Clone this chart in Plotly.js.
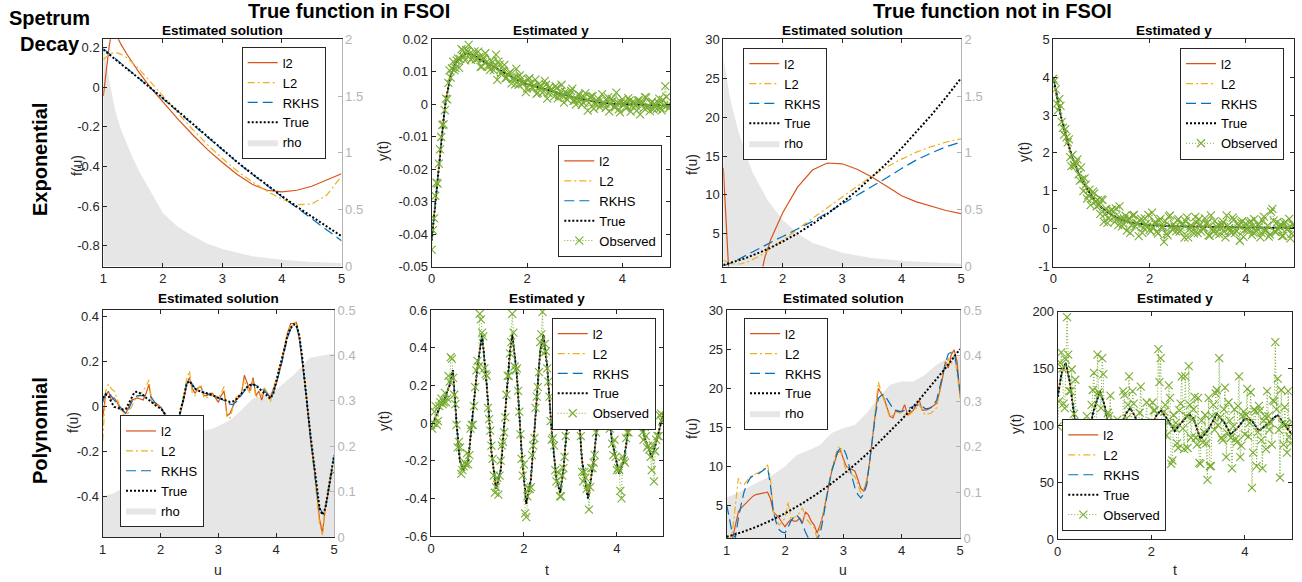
<!DOCTYPE html>
<html><head><meta charset="utf-8">
<script src="https://cdn.plot.ly/plotly-3.0.1.min.js"></script>
<style>html,body{margin:0;padding:0;background:#fff}#chart{width:1302px;height:582px}</style>
</head><body><div id="chart"></div>
<script>
// ---------------- DATA ----------------
// Panel 1: exponential decay, true function in FSOI, estimated solution
const u1 = [1,1.05,1.1,1.15,1.2,1.25,1.3,1.4,1.5,1.6,1.8,2,2.25,2.5,2.75,3,3.25,3.5,3.75,4,4.25,4.5,4.75,5];
const l2F1 = [-0.045,0.09,0.21,0.29,0.3,0.245,0.215,0.165,0.118,0.075,-0.005,-0.075,-0.16,-0.24,-0.315,-0.38,-0.44,-0.49,-0.52,-0.528,-0.52,-0.5,-0.47,-0.437];
const L2F1 = [0.14,0.155,0.166,0.172,0.174,0.172,0.166,0.148,0.122,0.092,0.025,-0.045,-0.13,-0.213,-0.29,-0.36,-0.423,-0.477,-0.525,-0.565,-0.593,-0.59,-0.545,-0.45];
const rkhsF1 = [0.195,0.182,0.17,0.157,0.145,0.132,0.12,0.095,0.07,0.045,-0.005,-0.056,-0.122,-0.188,-0.253,-0.317,-0.379,-0.439,-0.497,-0.553,-0.608,-0.663,-0.718,-0.775];
const trueF1 = [0.19,0.178,0.166,0.154,0.142,0.13,0.118,0.094,0.07,0.045,-0.005,-0.055,-0.12,-0.187,-0.252,-0.316,-0.378,-0.437,-0.494,-0.55,-0.603,-0.654,-0.703,-0.752];
const rhoU1 = [1,1.02,1.05,1.1,1.15,1.2,1.3,1.4,1.5,1.6,1.8,2,2.25,2.5,2.75,3,3.5,4,4.5,5];
const rho1 = [1.95,1.9,1.8,1.64,1.5,1.37,1.2,1.07,0.95,0.84,0.66,0.47,0.35,0.27,0.2,0.155,0.09,0.06,0.04,0.03];

// Observation times (two interleaved sampling grids)
const tObs = [0,0.05,0.1,0.15,0.2,0.25,0.3,0.35,0.4,0.45,0.5,0.55,0.6,0.65,0.7,0.75,0.8,0.85,0.9,0.95,1,1.05,1.1,1.15,1.2,1.25,1.3,1.35,1.4,1.45,1.5,1.55,1.6,1.65,1.7,1.75,1.8,1.85,1.9,1.95,2,2.05,2.1,2.15,2.2,2.25,2.3,2.35,2.4,2.45,2.5,2.55,2.6,2.65,2.7,2.75,2.8,2.85,2.9,2.95,3,3.05,3.1,3.15,3.2,3.25,3.3,3.35,3.4,3.45,3.5,3.55,3.6,3.65,3.7,3.75,3.8,3.85,3.9,3.95,4,4.05,4.1,4.15,4.2,4.25,4.3,4.35,4.4,4.45,4.5,4.55,4.6,4.65,4.7,4.75,4.8,4.85,4.9,4.95,5];
const tObsB = [0.025,0.075,0.125,0.175,0.225,0.275,0.325,0.375,0.425,0.475,0.525,0.575,0.625,0.675,0.725,0.775,0.825,0.875,0.925,0.975,
1.025,1.075,1.125,1.175,1.225,1.275,1.325,1.375,1.425,1.475,1.525,1.575,1.625,1.675,1.725,1.775,1.825,1.875,1.925,1.975,
2.025,2.075,2.125,2.175,2.225,2.275,2.325,2.375,2.425,2.475,2.525,2.575,2.625,2.675,2.725,2.775,2.825,2.875,2.925,2.975,
3.025,3.075,3.125,3.175,3.225,3.275,3.325,3.375,3.425,3.475,3.525,3.575,3.625,3.675,3.725,3.775,3.825,3.875,3.925,3.975,
4.025,4.075,4.125,4.175,4.225,4.275,4.325,4.375,4.425,4.475,4.525,4.575,4.625,4.675,4.725,4.775,4.825,4.875,4.925,4.975];

// Panel 2: exponential, FSOI, estimated y
const tLine2 = [0,0.05,0.1,0.15,0.2,0.25,0.3,0.35,0.4,0.5,0.6,0.7,0.8,0.9,1.0,1.2,1.4,1.6,1.8,2.0,2.25,2.5,2.75,3.0,3.25,3.5,3.75,4.0,4.5,5.0];
const yTrue2 = [-0.042,-0.034,-0.026,-0.018,-0.011,-0.0045,0.0015,0.0055,0.009,0.0125,0.0145,0.0155,0.0155,0.015,0.0138,0.0123,0.0107,0.0091,0.0075,0.0062,0.0052,0.0042,0.003,0.002,0.0013,0.0005,0.0002,0,-0.0002,-0.0005];
const obs2 = [-0.0448,-0.0352,-0.0242,-0.0183,-0.0101,-0.0062,0.0017,0.0066,0.0082,0.0131,
0.0111,0.0141,0.0139,0.0166,0.0135,0.0163,0.0156,0.0142,0.0163,0.0141,
0.0146,0.0116,0.0141,0.013,0.0116,0.0135,0.0104,0.0153,0.0131,0.0094,
0.0105,0.008,0.0091,0.0099,0.0078,0.0061,0.0084,0.0089,0.0065,0.0069,
0.0049,0.008,0.0052,0.0058,0.0032,0.0063,0.0055,0.004,0.006,0.0034,
0.0045,0.0039,0.0056,0.0019,0.0039,0.0026,0.0038,0.0014,0.003,0.0048,
0.0011,0.0015,0.0029,-0.0002,0.0021,0.0012,0.0004,0.0024,-0.0014,0.001,
0.0016,-0.0003,0.0006,-0.0011,0.0021,0,0.0011,-0.001,0.0006,-0.0025,
0.0016,0,-0.0008,0.0011,-0.0006,0.0006,-0.002,0.0012,0.0001,-0.0012,
0.002,-0.0007,0.0003,-0.0016,-0.0002,0.0006,-0.0011,0.0013,0.0056,-0.0003,
-0.0008];
const obs2b = [-0.0388,-0.0282,-0.0245,-0.0139,-0.0064,-0.0018,0.0015,0.0104,0.011,0.0105,
0.0135,0.0112,0.017,0.0146,0.0167,0.0183,0.0137,0.0152,0.0138,0.0162,
0.0115,0.0141,0.0157,0.0119,0.0106,0.013,0.0116,0.0075,0.0122,0.0097,
0.0121,0.0082,0.0096,0.0064,0.0081,0.0109,0.006,0.0078,0.0064,0.0037,
0.0076,0.0065,0.0049,0.0076,0.0035,0.0054,0.0036,0.0072,0.0017,0.0053,
0.0045,0.0024,0.005,0.0028,0.006,0.0005,0.0034,0.0024,0.0041,0.001,
-0.0001,0.003,0.0017,0.0006,0.0034,-0.002,0.0021,0.0025,0,0.0006,
-0.0009,0.0031,0,0.0011,-0.0022,0.0017,-0.0008,0.0036,-0.0016,0.0006,
0.0003,-0.0013,0.0019,-0.0023,0.0009,-0.0004,0.0012,-0.0031,0.0005,0.0022,
-0.0009,-0.0021,0.0008,0.0001,-0.0014,0.0017,-0.0019,-0.0004,0.0023,-0.0013];

// Panel 3: exponential, not in FSOI, estimated solution
const u3 = [1,1.05,1.1,1.2,1.3,1.4,1.5,1.6,1.7,1.8,1.9,2,2.25,2.5,2.75,3,3.25,3.5,3.75,4,4.25,4.5,4.75,5];
const l2F3 = [13.5,6.0,-1.0,-8.0,-10.0,-9.0,-6.0,-1.5,2.0,4.3,6.1,7.7,11.0,13.2,14.1,14.0,13.3,12.3,11.1,9.9,9.1,8.5,8.0,7.6];
const L2F3 = [1.6,1.4,1.25,1.1,1.15,1.35,1.7,2.1,2.6,3.1,3.7,4.2,5.6,7.0,8.4,9.8,11.1,12.4,13.6,14.6,15.5,16.2,16.8,17.2];
const rkhsF3 = [0.9,1.0,1.15,1.5,1.9,2.35,2.8,3.2,3.6,3.95,4.3,4.65,5.6,6.6,7.7,8.8,9.9,11.0,12.2,13.4,14.5,15.4,16.2,16.8];
const trueF3 = [1,1.1,1.21,1.44,1.69,1.96,2.25,2.56,2.89,3.24,3.61,4,5.06,6.25,7.56,9,10.56,12.25,14.06,16,18.06,20.25,22.56,25];
const rhoU3 = [1,1.05,1.1,1.15,1.25,1.35,1.5,1.75,2,2.25,2.5,3,3.5,4,4.5,5];
const rho3 = [1.85,1.68,1.52,1.4,1.2,1.03,0.82,0.58,0.41,0.29,0.21,0.12,0.075,0.05,0.035,0.025];

// Panel 4: exponential, not in FSOI, estimated y
const tLine4 = [0,0.05,0.1,0.15,0.2,0.25,0.3,0.35,0.4,0.5,0.6,0.7,0.8,0.9,1.0,1.2,1.4,1.6,1.8,2.0,2.5,3.0,3.5,4.0,4.5,5.0];
const yTrue4 = [4.0,3.65,3.32,3.02,2.75,2.5,2.27,2.06,1.87,1.54,1.27,1.04,0.85,0.69,0.56,0.37,0.24,0.16,0.12,0.09,0.065,0.05,0.04,0.03,0.025,0.02];
const obs4 = [3.96,3.68,3.13,3.24,2.66,2.63,2.28,1.89,1.95,1.65,
1.83,1.27,1.31,1.33,0.79,1.03,0.79,0.93,0.59,0.62,
0.77,0.18,0.52,0.27,0.49,0.30,0.53,0.09,0.27,0.13,
0.34,0.23,-0.11,0.35,0.06,0.14,0.22,-0.11,0.27,0.05,
-0.03,0.42,0.16,-0.08,0.21,0.03,-0.35,-0.14,0.32,0.06,
0.11,-0.07,0.25,-0.04,0.12,0.20,-0.23,0.08,-0.03,0.31,
-0.12,0.10,0.01,0.27,0.16,-0.19,-0.02,0.20,0.04,-0.15,
0.12,-0.08,0.35,0.01,-0.11,0.24,-0.06,0.07,0.16,-0.22,
0.13,-0.02,0.20,-0.10,0.04,0.12,-0.23,0.22,-0.05,0.08,
-0.16,0.52,-0.08,0.17,0.05,-0.20,0.14,-0.02,0.26,-0.14,
0.09];
const obs4b = [3.90,3.30,3.42,2.82,2.48,2.41,2.36,1.65,1.68,1.75,
1.43,1.62,0.99,1.16,0.88,0.62,0.98,0.72,0.75,0.39,
0.75,0.39,0.15,0.45,0.50,0.18,0.25,0.59,0.06,0.25,
-0.05,0.28,0.09,0.36,0.14,-0.20,0.26,0.02,0.12,0.36,
-0.07,0.03,0.17,-0.13,0.26,0.05,0.20,-0.18,0.35,-0.03,
0.03,0.22,-0.08,0.12,-0.24,0.30,-0.02,0.07,-0.13,0.16,
0.25,-0.08,0.03,0.13,-0.18,0.35,-0.07,-0.13,0.11,0.04,
0.18,-0.23,0.08,-0.05,0.29,-0.12,0.13,-0.32,0.20,-0.03,
0.00,0.16,-0.17,0.25,-0.07,0.06,-0.11,0.32,-0.04,-0.21,
0.45,0.21,-0.09,-0.02,0.12,-0.19,0.18,0.01,-0.26,0.11];

// Panel 5: polynomial decay, FSOI, estimated solution
const uFine = [1,1.05,1.1,1.15,1.2,1.25,1.3,1.35,1.4,1.45,1.5,1.55,1.6,1.65,1.7,1.75,1.8,1.85,1.9,1.95,2,2.05,2.1,2.15,2.2,2.25,2.3,2.35,2.4,2.45,2.5,2.55,2.6,2.65,2.7,2.75,2.8,2.85,2.9,2.95,3,3.05,3.1,3.15,3.2,3.25,3.3,3.35,3.4,3.45,3.5,3.55,3.6,3.65,3.7,3.75,3.8,3.85,3.9,3.95,4,4.05,4.1,4.15,4.2,4.25,4.3,4.35,4.4,4.45,4.5,4.55,4.6,4.65,4.7,4.75,4.8,4.85,4.9,4.95,5];
const l2F5 = [-0.05,0.05,0.07,0.03,0.04,0.02,-0.01,-0.02,-0.03,0.0,
0.03,0.035,0.04,0.035,0.03,0.06,0.1,0.02,0.02,0.01,
0.0,-0.02,-0.04,-0.06,-0.08,-0.08,-0.07,-0.02,0.03,0.1,
0.13,0.08,0.06,0.085,0.09,0.05,0.05,0.06,0.06,0.04,
0.02,0.05,0.07,-0.04,-0.03,0.0,0.03,0.04,0.06,0.14,
0.1,0.07,0.13,0.05,0.07,0.03,0.08,0.06,0.04,0.08,
0.1,0.15,0.2,0.27,0.33,0.37,0.37,0.375,0.3,0.2,
0.1,-0.03,-0.16,-0.25,-0.38,-0.5,-0.56,-0.45,-0.38,-0.3,
-0.29];
const L2F5 = [-0.15,0.07,0.1,0.08,0.07,0.03,0.0,-0.03,-0.05,-0.02,
0.0,0.03,0.04,0.055,0.07,0.09,0.12,0.02,0.01,0.005,
0.0,-0.02,-0.04,-0.06,-0.07,-0.075,-0.08,-0.01,0.06,0.12,
0.16,0.06,0.05,0.08,0.1,0.04,0.04,0.05,0.05,0.05,
0.04,0.06,0.09,-0.05,-0.05,0.0,0.04,0.05,0.07,0.12,
0.08,0.06,0.12,0.04,0.06,0.05,0.09,0.05,0.02,0.08,
0.12,0.17,0.22,0.28,0.34,0.36,0.36,0.38,0.31,0.2,
0.1,-0.03,-0.15,-0.26,-0.4,-0.52,-0.57,-0.44,-0.35,-0.28,
-0.25];
const rkhsF5 = [0.02,0.06,0.065,0.045,0.03,0.015,0.0,-0.015,-0.03,-0.01,
0.02,0.04,0.05,0.05,0.05,0.05,0.05,0.04,0.02,0.01,
0.0,-0.025,-0.05,-0.065,-0.08,-0.08,-0.07,-0.02,0.04,0.1,
0.12,0.1,0.08,0.07,0.066,0.062,0.06,0.055,0.05,0.045,
0.04,0.035,0.028,0.02,0.012,0.01,0.02,0.035,0.05,0.07,
0.09,0.1,0.1,0.095,0.09,0.08,0.07,0.055,0.04,0.06,
0.1,0.15,0.2,0.26,0.31,0.345,0.36,0.355,0.31,0.21,
0.1,-0.03,-0.15,-0.26,-0.37,-0.45,-0.47,-0.45,-0.38,-0.3,
-0.22];
const trueF5 = [0.04,0.055,0.05,0.02,0.0,-0.005,-0.007,-0.012,-0.01,0.015,
0.044,0.065,0.067,0.06,0.052,0.04,0.03,0.018,0.007,0.0,
-0.007,-0.02,-0.044,-0.07,-0.093,-0.096,-0.067,-0.01,0.037,0.1,
0.115,0.096,0.08,0.072,0.067,0.062,0.06,0.056,0.052,0.046,
0.04,0.035,0.03,0.025,0.022,0.024,0.03,0.045,0.06,0.075,
0.089,0.096,0.1,0.094,0.084,0.072,0.06,0.048,0.037,0.06,
0.11,0.16,0.207,0.265,0.318,0.35,0.366,0.363,0.318,0.22,
0.11,-0.022,-0.14,-0.25,-0.363,-0.45,-0.48,-0.45,-0.378,-0.3,
-0.215];
const rhoU5 = [1,1.18,1.53,1.93,2.1,2.45,2.68,2.91,3.2,3.37,3.6,3.84,4.06,4.3,4.58,4.81,5];
const rho5 = [0.09,0.096,0.121,0.162,0.184,0.21,0.232,0.239,0.257,0.276,0.305,0.313,0.331,0.357,0.395,0.4,0.404];

// Panel 6: polynomial, FSOI, estimated y
const tLine6 = [0,0.1,0.2,0.3,0.4,0.47,0.55,0.62,0.7,0.8,0.9,1.0,1.1,1.2,1.3,1.4,1.5,1.6,1.7,1.75,1.85,1.95,2.05,2.15,2.25,2.35,2.42,2.5,2.6,2.7,2.78,2.85,2.95,3.05,3.15,3.25,3.38,3.5,3.6,3.7,3.8,3.9,4.05,4.15,4.3,4.4,4.5,4.6,4.75,4.85,5.0];
const yTrue6 = [-0.02,0.03,0.09,0.13,0.2,0.28,0.0,-0.2,-0.25,-0.2,0.05,0.3,0.47,0.2,-0.15,-0.35,-0.25,0.05,0.38,0.47,0.25,-0.15,-0.43,-0.3,0.05,0.38,0.47,0.3,-0.05,-0.3,-0.37,-0.25,0.05,0.3,0.15,-0.2,-0.4,-0.2,0.05,0.2,0.1,-0.1,-0.27,-0.2,0.05,0.12,0.05,-0.08,-0.18,-0.1,0.05];
const obs6 = [-0.01,0.0,0.09,0.01,0.11,0.10,0.16,0.13,0.22,0.34,
0.15,-0.01,-0.10,-0.27,-0.23,-0.22,-0.22,-0.03,-0.01,0.19,
0.33,0.58,0.48,0.29,0.25,0.02,-0.12,-0.28,-0.34,-0.38,
-0.20,-0.10,0.03,0.25,0.37,0.58,0.30,0.29,0.06,-0.19,
-0.22,-0.50,-0.35,-0.34,-0.12,0.08,0.19,0.43,0.59,0.42,
0.29,0.14,-0.09,-0.12,-0.31,-0.32,-0.39,-0.24,-0.07,0.03,
0.24,0.26,0.24,0.13,0.02,-0.26,-0.26,-0.35,-0.46,-0.24,
-0.21,-0.05,-0.01,0.16,0.21,0.13,0.15,-0.03,-0.11,-0.09,
-0.25,-0.25,-0.40,-0.20,-0.08,-0.05,0.0,0.11,0.17,0.08,
0.06,-0.05,-0.02,-0.13,-0.14,-0.25,-0.31,-0.09,-0.07,0.05,
0.02];
const obs6b = [-0.03,0.06,-0.01,0.09,0.13,0.11,0.11,0.25,0.35,0.24,
0.10,-0.13,-0.13,-0.25,-0.21,-0.16,-0.17,-0.01,0.09,0.28,
0.30,0.55,0.46,0.26,0.08,-0.04,-0.19,-0.37,-0.29,-0.28,
-0.12,-0.05,0.15,0.25,0.43,0.48,0.28,0.17,-0.06,-0.28,
-0.48,-0.39,-0.35,-0.17,-0.08,0.14,0.27,0.47,0.37,0.38,
0.22,0.01,-0.08,-0.25,-0.26,-0.39,-0.28,-0.18,0.01,0.09,
0.20,0.29,0.19,0.05,-0.07,-0.31,-0.29,-0.33,-0.34,-0.24,
-0.17,0.04,0.08,0.18,0.12,0.16,0.03,0.03,-0.17,-0.18,
-0.24,-0.36,-0.18,-0.21,-0.05,0.00,0.10,0.04,0.12,0.12,
0.01,-0.09,-0.07,-0.12,-0.18,-0.12,-0.15,-0.07,0.04,0.01];

// Panel 7: polynomial, not in FSOI, estimated solution
const l2F7 = [0.5,0.6,0.8,2.5,4.2,4.7,5.1,5.5,5.9,6.2,
6.4,6.5,6.6,6.65,6.7,5.9,4.2,3.8,3.4,2.8,
2.3,2.8,3.2,3.0,3.0,3.4,2.8,4.2,3.8,3.0,
2.5,1.5,2.5,3.8,5.5,7.5,9.4,10.7,11.7,12.0,
11.1,10.0,9.8,9.6,9.4,8.3,7.2,6.8,8.1,10.5,
13.6,17.0,20.0,19.3,18.7,17.5,16.4,16.2,17.2,17.1,
17.0,17.9,16.6,16.9,17.2,17.8,18.5,17.2,17.2,17.3,
17.5,17.8,18.1,19.5,21.3,23.4,22.6,24.3,24.9,23.4,
19.0];
const L2F7 = [0.5,0.6,1.7,5.0,8.5,7.7,7.7,8.2,8.7,8.9,
9.1,9.2,9.4,9.8,10.2,8.5,4.2,3.2,2.5,2.9,
3.4,5.5,3.4,3.5,3.6,4.1,4.7,3.4,3.0,2.5,
2.1,0.8,2.1,3.8,5.9,7.8,9.6,11.0,12.3,12.6,
10.6,9.4,9.1,8.9,8.7,7.6,6.6,7.1,7.7,10.5,
14.0,17.5,20.8,19.5,18.3,17.2,16.2,16.6,17.0,16.9,
16.8,16.6,16.4,16.7,17.0,17.4,17.9,17.2,16.6,16.7,
16.8,17.1,17.5,19.7,21.9,22.8,23.8,23.0,24.3,22.0,
18.7];
const rkhsF7 = [5.1,3.4,1.3,0.9,3.4,5.2,6.8,7.8,8.5,8.8,
8.9,9.1,9.35,9.6,9.9,7.6,4.2,2.8,1.9,1.6,
1.5,2.2,3.0,3.5,3.8,3.3,2.6,1.6,0.85,0.5,
0.5,0.8,1.3,3.2,5.5,7.6,9.4,10.8,11.9,12.3,
12.35,11.5,10.2,8.6,7.2,6.4,5.95,6.5,7.6,10.5,
14.0,16.6,18.7,19.1,19.2,18.6,17.9,17.4,17.1,17.0,
17.0,17.2,17.4,17.6,17.7,17.8,17.9,17.7,17.4,17.4,
17.5,17.9,18.5,20.0,21.7,23.2,24.4,24.6,24.6,22.5,
19.6];
const u7True = [1,1.25,1.5,1.75,2,2.25,2.5,2.75,3,3.25,3.5,3.75,4,4.25,4.5,4.75,5];
const trueF7 = [1,1.56,2.25,3.06,4,5.06,6.25,7.56,9,10.56,12.25,14.06,16,18.06,20.25,22.56,25];
const rhoU7 = [1,1.2,1.5,1.8,2,2.2,2.4,2.6,2.8,3,3.2,3.4,3.6,3.8,4,4.2,4.4,4.6,4.8,5];
const rho7 = [0.089,0.099,0.12,0.139,0.157,0.182,0.192,0.204,0.23,0.241,0.248,0.274,0.307,0.336,0.343,0.343,0.358,0.38,0.396,0.398];

// Panel 8: polynomial, not in FSOI, estimated y
const tLine8 = [0,0.08,0.17,0.25,0.35,0.45,0.55,0.65,0.75,0.9,1.0,1.1,1.2,1.3,1.45,1.55,1.65,1.8,1.95,2.1,2.2,2.35,2.5,2.65,2.8,2.9,3.05,3.2,3.4,3.55,3.7,3.85,4.0,4.15,4.3,4.45,4.6,4.7,4.85,5.0];
const yTrue8 = [125,145,155,140,110,80,68,85,110,130,118,95,82,92,110,115,108,92,93,108,113,105,95,103,110,106,88,95,110,103,92,98,106,104,95,100,106,109,100,92];
const obs8 = [99,155,150,115,195,130,149,110,76,88,
103,54,49,90,91,131,85,162,127,159,
100,98,108,66,98,82,94,68,130,99,
118,99,130,98,61,111,97,71,120,80,
96,113,84,167,159,92,118,102,124,69,
98,84,113,143,79,108,152,89,114,89,
124,66,85,109,52,64,108,96,131,159,
89,114,72,120,89,99,88,117,72,108,
92,132,102,45,114,64,117,87,104,79,
108,102,122,173,141,54,101,116,76,90,
103];
const obs8b = [121,164,119,158,162,130,94,140,100,62,
76,48,108,82,118,146,100,129,115,145,
85,111,126,78,66,105,98,60,127,106,
143,99,119,80,100,134,75,103,90,64,
120,113,99,138,90,112,91,135,66,109,
102,80,119,97,143,80,118,105,125,83,
67,104,94,84,124,64,118,128,100,107,
87,133,93,104,62,114,85,143,82,112,
109,90,129,76,112,94,113,62,108,130,
96,83,121,114,96,131,83,101,130,84];

// Tick labels
const uTicks = [1,2,3,4,5];
const tTicks = [0,2,4];
const yTicks1 = [0.2,0,-0.2,-0.4,-0.6,-0.8];
const yText1 = ['0.2','0','-0.2','-0.4','-0.6','-0.8'];
const yTicks2 = [0.02,0.01,0,-0.01,-0.02,-0.03,-0.04,-0.05];
const yText2 = ['0.02','0.01','0','-0.01','-0.02','-0.03','-0.04','-0.05'];
const yTicks3 = [5,10,15,20,25,30];
const yTicks4 = [-1,0,1,2,3,4,5];
const yText4 = ['-1','0','1','2','3','4','5'];
const yTicks5 = [0.4,0.2,0,-0.2,-0.4];
const yText5 = ['0.4','0.2','0','-0.2','-0.4'];
const yTicks6 = [0.6,0.4,0.2,0,-0.2,-0.4,-0.6];
const yText6 = ['0.6','0.4','0.2','0','-0.2','-0.4','-0.6'];
const yTicks8 = [0,50,100,150,200];
const rhoTicksA = [0,0.5,1,1.5,2];
const rhoTicksB = [0,0.1,0.2,0.3,0.4,0.5];

// ---------------- STYLE / LAYOUT ----------------
const FONT = 'Liberation Sans, Arial, Helvetica, sans-serif';
const W = 1302, H = 582;
const AX = '#262626', RAX = '#b4b4b4';
const STY = {
  l2:   {color:'#D95319', dash:'solid', width:1.2},
  L2:   {color:'#EDB120', dash:'7px,3px,2px,3px', width:1.2},
  RKHS: {color:'#0072BD', dash:'10px,5px', width:1.2},
  True: {color:'#000000', dash:'2px,2px', width:2}
};
const px = x => x / W;
const py = y => 1 - y / H;

const boxes = {
  1:{x0:103.3,x1:341.5,y0:39.3,y1:266.5},
  2:{x0:431.7,x1:670,y0:39.3,y1:266.5},
  3:{x0:723.3,x1:961,y0:39.3,y1:266.5},
  4:{x0:1053.3,x1:1294,y0:39.3,y1:266.5},
  5:{x0:102.7,x1:334,y0:310,y1:537},
  6:{x0:431,x1:663.3,y0:310,y1:536},
  7:{x0:726.7,x1:960,y0:310,y1:538},
  8:{x0:1057.7,x1:1291.7,y0:311.5,y1:539}
};
// legend anchor: [left px, y px, 'top' or 'bottom']
const legPos = {1:[241.7,46.7,'top'],2:[558.3,257,'bottom'],3:[743.3,47.7,'top'],4:[1180,47.7,'top'],
                5:[120,527,'bottom'],6:[551.7,317.7,'top'],7:[744,317.7,'top'],8:[1062.3,531,'bottom']};

const traces = [];
const layout = {
  width: W, height: H, margin:{l:0,r:0,t:0,b:0},
  paper_bgcolor:'#fff', plot_bgcolor:'#fff', showlegend:true,
  font:{family:FONT, color:AX}, annotations:[]
};

const xid = i => i === 1 ? 'x' : 'x' + i;
const yid = i => i === 1 ? 'y' : 'y' + i;
const axKey = id => id.replace('x','xaxis').replace('y','yaxis');
const legId = i => i === 1 ? 'legend' : 'legend' + i;
// merge two sampling grids in time order (a0,b0,a1,b1,...)
function interleave(a, b){ const out = []; a.forEach((v, k) => { out.push(v); if (k < b.length) out.push(b[k]); }); return out; }

function line(i, ya, x, y, name){
  traces.push({type:'scatter', mode:'lines', x, y, name, xaxis:xid(i), yaxis:ya,
    legend:legId(i), line:STY[name], hoverinfo:'skip'});
}
function obsTrace(i, ya, x, y){
  traces.push({type:'scatter', mode:'lines+markers', x, y, name:'Observed', xaxis:xid(i), yaxis:ya,
    legend:legId(i), line:{color:'#77AC30', dash:'1px,2px', width:1},
    marker:{symbol:'x-thin-open', size:8, color:'#77AC30', line:{width:1.1, color:'#77AC30'}}, hoverinfo:'skip'});
}
function rhoTrace(i, x, y){
  traces.push({type:'scatter', mode:'lines', x, y, name:'rho', xaxis:xid(i), yaxis:yid(i),
    legend:legId(i), legendrank:2000, fill:'tozeroy', fillcolor:'#e6e6e6',
    line:{color:'#e6e6e6', width:0}, hoverinfo:'skip'});
}

function setAxes(i, opts){
  const b = boxes[i];
  const common = {ticks:'inside', ticklen:4, tickwidth:1, tickcolor:AX, showline:true, linecolor:AX,
    linewidth:1, showgrid:false, zeroline:false, tickfont:{family:FONT, size:13, color:AX}, fixedrange:true};
  layout[axKey(xid(i))] = Object.assign({}, common, {domain:[px(b.x0), px(b.x1)], anchor:yid(i),
    range:opts.xr, tickmode:'array', tickvals:opts.xt, mirror:'ticks'});
  if (opts.rho){
    layout[axKey(yid(i))] = Object.assign({}, common, {domain:[py(b.y1), py(b.y0)], anchor:xid(i), side:'right',
      range:opts.rr, tickmode:'array', tickvals:opts.rt, linecolor:RAX, tickcolor:RAX,
      tickfont:{family:FONT, size:13, color:RAX}, mirror:false});
    const lid = 'y' + (10 + i);
    layout[axKey(lid)] = Object.assign({}, common, {overlaying:yid(i), anchor:xid(i), side:'left',
      range:opts.yr, tickmode:'array', tickvals:opts.yt, ticktext:opts.ytt || opts.yt.map(String), mirror:false});
    return lid;
  } else {
    layout[axKey(yid(i))] = Object.assign({}, common, {domain:[py(b.y1), py(b.y0)], anchor:xid(i), side:'left',
      range:opts.yr, tickmode:'array', tickvals:opts.yt, ticktext:opts.ytt || opts.yt.map(String), mirror:'ticks'});
    return yid(i);
  }
}
function setLegend(i){
  const p = legPos[i];
  layout[legId(i)] = {x:px(p[0]), y:py(p[1]), xanchor:'left', yanchor:p[2], bgcolor:'#ffffff',
    bordercolor:AX, borderwidth:1, font:{family:FONT, size:13, color:'#000'}, itemwidth:30,
    tracegroupgap:0, traceorder:'normal'};
}

// Panel 1
let ya = setAxes(1, {xr:[1,5], xt:uTicks, yr:[-0.905,0.242], yt:yTicks1, ytt:yText1, rho:true, rr:[0,2], rt:rhoTicksA});
rhoTrace(1, rhoU1, rho1);
line(1, ya, u1, l2F1, 'l2'); line(1, ya, u1, L2F1, 'L2'); line(1, ya, u1, rkhsF1, 'RKHS'); line(1, ya, u1, trueF1, 'True');
// Panel 2 (estimates coincide with the true curve in the picture)
ya = setAxes(2, {xr:[0,5], xt:tTicks, yr:[-0.05,0.02], yt:yTicks2, ytt:yText2});
line(2, ya, tLine2, yTrue2, 'l2'); line(2, ya, tLine2, yTrue2, 'L2'); line(2, ya, tLine2, yTrue2, 'RKHS'); line(2, ya, tLine2, yTrue2, 'True');
obsTrace(2, ya, interleave(tObs, tObsB), interleave(obs2, obs2b));
// Panel 3
ya = setAxes(3, {xr:[1,5], xt:uTicks, yr:[0.8,30], yt:yTicks3, rho:true, rr:[0,2], rt:rhoTicksA});
rhoTrace(3, rhoU3, rho3);
line(3, ya, u3, l2F3, 'l2'); line(3, ya, u3, L2F3, 'L2'); line(3, ya, u3, rkhsF3, 'RKHS'); line(3, ya, u3, trueF3, 'True');
// Panel 4
ya = setAxes(4, {xr:[0,5], xt:tTicks, yr:[-1,5], yt:yTicks4, ytt:yText4});
line(4, ya, tLine4, yTrue4, 'l2'); line(4, ya, tLine4, yTrue4, 'L2'); line(4, ya, tLine4, yTrue4, 'RKHS'); line(4, ya, tLine4, yTrue4, 'True');
obsTrace(4, ya, interleave(tObs, tObsB), interleave(obs4, obs4b));
// Panel 5
ya = setAxes(5, {xr:[1,5], xt:uTicks, yr:[-0.578,0.43], yt:yTicks5, ytt:yText5, rho:true, rr:[0,0.5], rt:rhoTicksB});
rhoTrace(5, rhoU5, rho5);
line(5, ya, uFine, l2F5, 'l2'); line(5, ya, uFine, L2F5, 'L2'); line(5, ya, uFine, rkhsF5, 'RKHS'); line(5, ya, uFine, trueF5, 'True');
// Panel 6
ya = setAxes(6, {xr:[0,5], xt:tTicks, yr:[-0.6,0.6], yt:yTicks6, ytt:yText6});
line(6, ya, tLine6, yTrue6, 'l2'); line(6, ya, tLine6, yTrue6, 'L2'); line(6, ya, tLine6, yTrue6, 'RKHS'); line(6, ya, tLine6, yTrue6, 'True');
obsTrace(6, ya, interleave(tObs, tObsB), interleave(obs6, obs6b));
// Panel 7
ya = setAxes(7, {xr:[1,5], xt:uTicks, yr:[0.85,30], yt:yTicks3, rho:true, rr:[0,0.5], rt:rhoTicksB});
rhoTrace(7, rhoU7, rho7);
line(7, ya, uFine, l2F7, 'l2'); line(7, ya, uFine, L2F7, 'L2'); line(7, ya, uFine, rkhsF7, 'RKHS'); line(7, ya, u7True, trueF7, 'True');
// Panel 8
ya = setAxes(8, {xr:[0,5], xt:tTicks, yr:[0,200], yt:yTicks8});
line(8, ya, tLine8, yTrue8, 'l2'); line(8, ya, tLine8, yTrue8, 'L2'); line(8, ya, tLine8, yTrue8, 'RKHS'); line(8, ya, tLine8, yTrue8, 'True');
obsTrace(8, ya, interleave(tObs, tObsB), interleave(obs8, obs8b));

for (let i = 1; i <= 8; i++) setLegend(i);

// ---------------- TEXT ----------------
function ann(text, x, y, size, opts){
  layout.annotations.push(Object.assign({text, x:px(x), y:py(y), xref:'paper', yref:'paper',
    xanchor:'center', yanchor:'middle', showarrow:false, font:{family:FONT, size, color:'#000'}}, opts||{}));
}
ann('<b>True function in FSOI</b>', 349, 11, 20);
ann('<b>True function not in FSOI</b>', 992, 11, 20);
ann('<b>Spetrum</b><br><b>Decay</b>', 49, 31, 20);
ann('<b>Exponential</b>', 40, 160, 20, {textangle:-90});
ann('<b>Polynomial</b>', 40, 431, 20, {textangle:-90});
const subTitles = {1:'Estimated solution',2:'Estimated y',3:'Estimated solution',4:'Estimated y',
                   5:'Estimated solution',6:'Estimated y',7:'Estimated solution',8:'Estimated y'};
for (let i = 1; i <= 8; i++){
  const b = boxes[i];
  ann('<b>' + subTitles[i] + '</b>', (b.x0 + b.x1) / 2, i <= 4 ? 30 : 298, 13.5);
}
const yTitles = [['f(u)',77,166],['y(t)',383,151],['f(u)',692,164],['y(t)',1024,152],
                 ['f(u)',73,423],['y(t)',384,421],['f(u)',692,428],['y(t)',1016,424]];
yTitles.forEach(t => ann(t[0], t[1], t[2], 14, {textangle:-90, font:{family:FONT, size:14, color:AX}}));
[['u',5],['t',6],['u',7],['t',8]].forEach(t => {
  const b = boxes[t[1]];
  ann(t[0], (b.x0 + b.x1) / 2, 570, 14, {font:{family:FONT, size:14, color:AX}});
});

Plotly.newPlot('chart', traces, layout, {displayModeBar:false, staticPlot:true});
</script></body></html>
